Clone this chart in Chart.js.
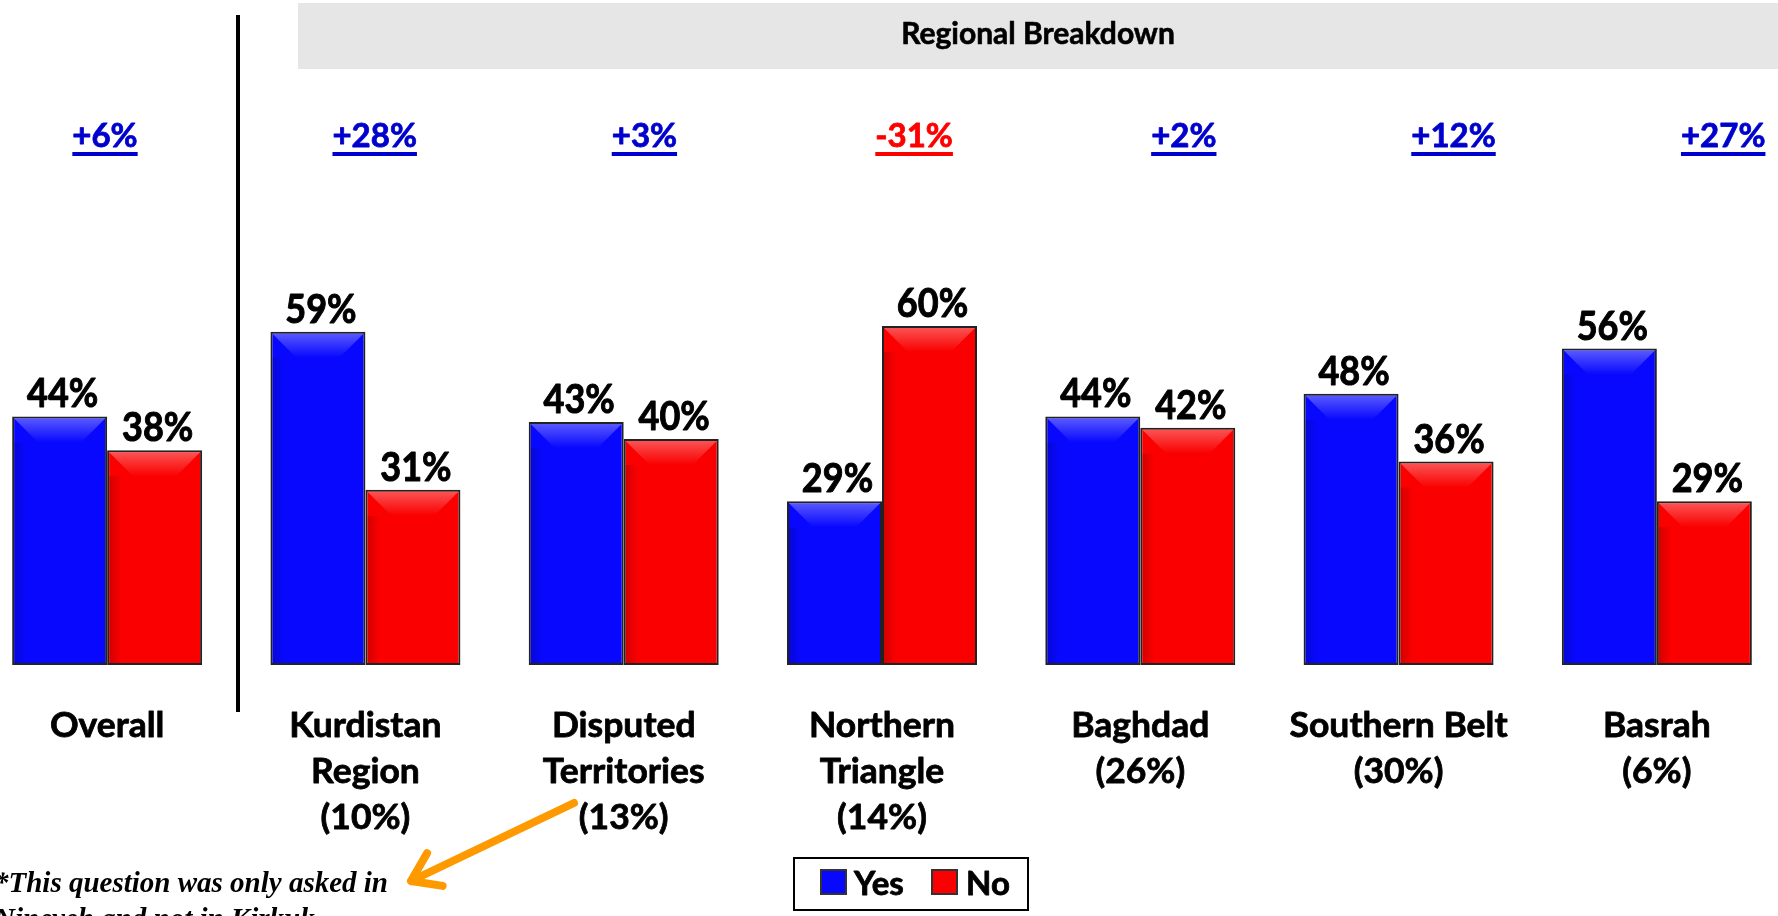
<!DOCTYPE html>
<html>
<head>
<meta charset="utf-8">
<title>Regional Breakdown</title>
<script src="https://cdn.jsdelivr.net/npm/chart.js@4.4.0/dist/chart.umd.min.js"></script>
<style>
  html, body { margin: 0; padding: 0; background: #fff; overflow: hidden; }
  #wrap { position: relative; width: 1778px; height: 916px; overflow: hidden; }
  #chart { position: absolute; left: -22px; top: 0; width: 1808px; height: 916px; }
</style>
</head>
<body>
<div id="wrap"><canvas id="chart" width="1808" height="916"></canvas></div>
<script>
// data
const categories = [
  ['Overall'],
  ['Kurdistan', 'Region', '(10%)'],
  ['Disputed', 'Territories', '(13%)'],
  ['Northern', 'Triangle', '(14%)'],
  ['Baghdad', '(26%)'],
  ['Southern Belt', '(30%)'],
  ['Basrah', '(6%)']
];
const yesValues = [44, 59, 43, 29, 44, 48, 56];
const noValues = [38, 31, 40, 60, 42, 36, 29];
const diffLabels = ['+6%', '+28%', '+3%', '-31%', '+2%', '+12%', '+27%'];
const seriesNames = ['Yes', 'No'];
const headerTitle = 'Regional Breakdown';
const footnote = ['*This question was only asked in', 'Nineveh and not in Kirkuk'];

const OFFSET = 22; // canvas starts 22px left of the page
const BLUE = '#0808ff';
const RED = '#fa0000';

function drawText(ctx, text, x, y, font, color, align, sy, thick) {
  ctx.save();
  ctx.font = font;
  ctx.fillStyle = color;
  ctx.strokeStyle = color;
  ctx.textAlign = align || 'center';
  ctx.textBaseline = 'alphabetic';
  ctx.translate(x, y);
  ctx.scale(1, sy || 1);
  ctx.fillText(text, 0, 0);
  if (thick) {
    ctx.lineWidth = thick;
    ctx.lineJoin = 'round';
    ctx.strokeText(text, 0, 0);
  }
  ctx.restore();
}

const decorPlugin = {
  id: 'decor',
  beforeDraw(chart) {
    const ctx = chart.ctx;
    ctx.save();
    // grey header band
    ctx.fillStyle = '#e6e6e6';
    ctx.fillRect(298 + OFFSET, 3, 1778 - 298, 66);
    // separator between overall and regions
    ctx.fillStyle = '#000';
    ctx.fillRect(236 + OFFSET, 15, 4, 697);
    ctx.restore();
    drawText(ctx, headerTitle, 1038 + OFFSET, 44, 'bold 30px Lato', '#000', 'center', 1, 0.6);
  },
  afterDatasetsDraw(chart) {
    const ctx = chart.ctx;
    const xScale = chart.scales.x;

    // bevel on each bar + value labels
    chart.data.datasets.forEach((ds, di) => {
      chart.getDatasetMeta(di).data.forEach((bar, i) => {
        const left = bar.x - bar.width / 2;
        const right = bar.x + bar.width / 2;
        const top = bar.y;
        const d = Math.min(26, (bar.base - top) / 3);
        ctx.save();
        const g = ctx.createLinearGradient(0, top, 0, top + d);
        g.addColorStop(0, 'rgba(255,255,255,0.35)');
        g.addColorStop(1, 'rgba(255,255,255,0)');
        ctx.fillStyle = g;
        ctx.beginPath();
        ctx.moveTo(left + 2, top + 2);
        ctx.lineTo(right - 2, top + 2);
        ctx.lineTo(right - d, top + d);
        ctx.lineTo(left + d, top + d);
        ctx.closePath();
        ctx.fill();
        const s = ctx.createLinearGradient(left, 0, left + 14, 0);
        s.addColorStop(0, 'rgba(0,0,0,0.18)');
        s.addColorStop(1, 'rgba(0,0,0,0)');
        ctx.fillStyle = s;
        ctx.fillRect(left + 2, top + d, 14, bar.base - top - d - 2);
        ctx.restore();
        drawText(ctx, ds.data[i] + '%', bar.x + 3, top - 9, 'bold 36px Lato', '#000', 'center', 1.1, 0.9);
      });
    });

    // category labels
    categories.forEach((lines, i) => {
      const x = xScale.getPixelForValue(i);
      lines.forEach((t, li) => {
        drawText(ctx, t, x, 737 + li * 46, 'bold 35.5px Lato', '#000', 'center', 0.95, 0.8);
      });
    });

    // difference labels (underlined)
    diffLabels.forEach((t, i) => {
      const x = 105 + i * 269.7 + OFFSET;
      const color = t.startsWith('-') ? '#ff0000' : '#0000cc';
      drawText(ctx, t, x, 147, 'bold 33px Lato', color, 'center', 1, 0.8);
      ctx.save();
      ctx.font = 'bold 33px Lato';
      const w = ctx.measureText(t).width;
      ctx.fillStyle = color;
      ctx.fillRect(x - w / 2, 152, w, 4);
      ctx.restore();
    });

    // legend box
    ctx.save();
    ctx.strokeStyle = '#000';
    ctx.lineWidth = 2;
    ctx.strokeRect(794 + OFFSET, 858, 234, 52);
    const swatchX = [821, 932];
    const textX = [854, 966];
    chart.data.datasets.forEach((ds, di) => {
      ctx.fillStyle = ds.backgroundColor;
      ctx.fillRect(swatchX[di] + OFFSET, 870, 25, 24);
      ctx.strokeStyle = '#333';
      ctx.lineWidth = 2;
      ctx.strokeRect(swatchX[di] + OFFSET, 870, 25, 24);
      drawText(ctx, ds.label, textX[di] + OFFSET, 895, 'bold 33px Lato', '#000', 'left', 1, 0.8);
    });
    ctx.restore();

    // footnote
    drawText(ctx, footnote[0], -6 + OFFSET, 892, 'bold italic 29px "Liberation Serif"', '#000', 'left');
    drawText(ctx, footnote[1], -6 + OFFSET, 928, 'bold italic 29px "Liberation Serif"', '#000', 'left');

    // orange arrow pointing at the footnote
    const x1 = 574 + OFFSET, y1 = 803, x2 = 411 + OFFSET, y2 = 881;
    const ang = Math.atan2(y2 - y1, x2 - x1);
    ctx.save();
    ctx.strokeStyle = '#ff9900';
    ctx.lineWidth = 8;
    ctx.lineCap = 'round';
    ctx.lineJoin = 'round';
    ctx.beginPath();
    ctx.moveTo(x1, y1);
    ctx.lineTo(x2, y2);
    ctx.moveTo(x2 - 32 * Math.cos(ang - 0.6), y2 - 32 * Math.sin(ang - 0.6));
    ctx.lineTo(x2, y2);
    ctx.lineTo(x2 - 32 * Math.cos(ang + 0.6), y2 - 32 * Math.sin(ang + 0.6));
    ctx.stroke();
    ctx.restore();
  }
};

new Chart(document.getElementById('chart'), {
  type: 'bar',
  data: {
    labels: categories,
    datasets: [
      { label: seriesNames[0], data: yesValues, backgroundColor: BLUE },
      { label: seriesNames[1], data: noValues, backgroundColor: RED }
    ]
  },
  options: {
    responsive: false,
    animation: false,
    layout: { padding: { top: 100, bottom: 251, left: 0, right: 0 } },
    datasets: {
      bar: {
        categoryPercentage: 0.7356,
        barPercentage: 1,
        borderColor: '#222',
        borderWidth: 2,
        borderSkipped: false
      }
    },
    scales: {
      x: { display: false },
      y: { display: false, min: 0, max: 100 }
    },
    plugins: {
      legend: { display: false },
      tooltip: { enabled: false }
    }
  },
  plugins: [decorPlugin]
});
</script>
</body>
</html>
